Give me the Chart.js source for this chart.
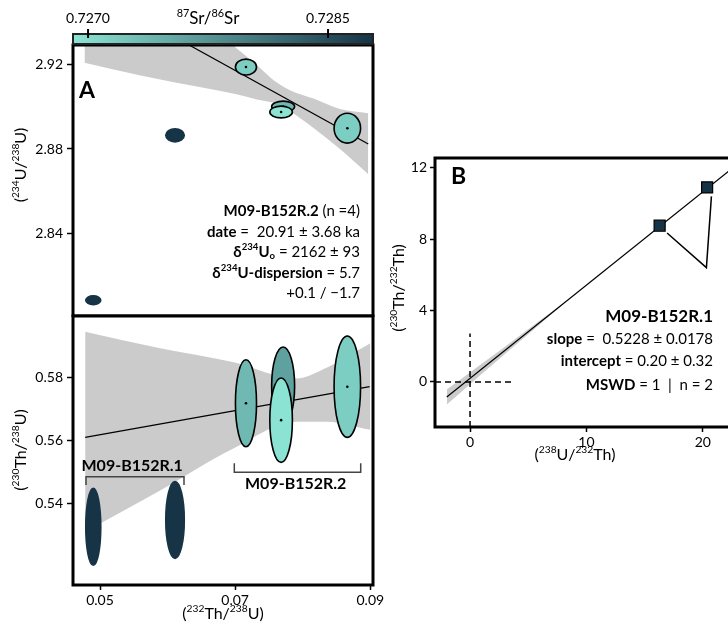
<!DOCTYPE html>
<html>
<head>
<meta charset="utf-8">
<title>M09-B152R U-series</title>
<script src="https://cdn.jsdelivr.net/npm/chart.js@4.4.1/dist/chart.umd.min.js"></script>
<style>
  body { margin: 0; background: #fff; width: 728px; height: 623px; overflow: hidden; position: relative; }
  canvas { position: absolute; }
  #panelATop { left: 0; top: 0; }
  #panelABottom { left: 0; top: 314px; }
  #panelB { left: 380px; top: 140px; }
</style>
</head>
<body>
<canvas id="panelATop" width="400" height="317"></canvas>
<canvas id="panelABottom" width="400" height="309"></canvas>
<canvas id="panelB" width="420" height="330"></canvas>
<script>
// ---- data ----
// 87Sr/86Sr colour scale
const srMin = 0.726906, srMax = 0.728781;
const srTicks = [0.7270, 0.7285];

// sub-samples, shared x: (232Th/238U)
const thU = [0.0490, 0.0611, 0.0716, 0.0771, 0.0768, 0.0866];
const thUErr = [0.00111, 0.00137, 0.00156, 0.0017, 0.00167, 0.00196];

// panel A top: (234U/238U)
const u234 = [2.808, 2.8865, 2.919, 2.9002, 2.8976, 2.8899];
const u234Err = [0.00214, 0.0031, 0.0038, 0.0026, 0.0028, 0.0071];
const srTop = [0.7288, 0.7288, 0.72714, 0.72736, 0.72692, 0.72714];

// panel A bottom: (230Th/238U)
const th230 = [0.5324, 0.5346, 0.5719, 0.5774, 0.5665, 0.5772];
const th230Err = [0.0123, 0.0123, 0.0139, 0.0125, 0.0135, 0.0162];
const srBottom = [0.7288, 0.7288, 0.72736, 0.72762, 0.72692, 0.72714];

// regression lines + confidence bands in panel A
const fitTopX = [0.0477, 0.0897];
const fitTopY = [2.957, 2.8824];
const bandTopX = [0.0477, 0.0560, 0.0655, 0.0702, 0.0732, 0.0756, 0.0781, 0.0816, 0.0855, 0.0897];
const bandTopHi = [2.993, 2.969, 2.941, 2.928, 2.920, 2.913, 2.908, 2.904, 2.899, 2.897];
const bandTopLo = [2.921, 2.915, 2.909, 2.906, 2.9036, 2.902, 2.898, 2.890, 2.880, 2.868];

const fitBotX = [0.0478, 0.0899];
const fitBotY = [0.5610, 0.5772];
const bandBotX = [0.0478, 0.0589, 0.0698, 0.0790, 0.0836, 0.0900];
const bandBotHi = [0.5948, 0.5895, 0.5850, 0.5798, 0.5833, 0.5911];
const bandBotLo = [0.5308, 0.5440, 0.5575, 0.5660, 0.5660, 0.5634];

// panel B: (230Th/232Th) vs (238U/232Th)
const uTh = [16.29, 20.37];
const thTh = [8.76, 10.91];
const isoX = [-2, 24];
const isoY = [-0.85, 12.75];
const isoBandX = [-2, 0, 2, 4, 6, 8];
const isoBandHi = [-0.42, 0.53, 1.49, 2.46, 3.44, 4.41];
const isoBandLo = [-1.27, -0.13, 1.0, 2.12, 3.24, 4.35];
const triX = [16.93, 20.31, 20.74];
const triY = [8.35, 6.41, 10.41];

// axis limits and ticks
const xLimA = [0.046, 0.0904];
const xTicksA = [0.05, 0.07, 0.09];
const yLimTop = [2.8005, 2.9295];
const yTicksTop = [2.84, 2.88, 2.92];
const yLimBot = [0.5138, 0.5998];
const yTicksBot = [0.54, 0.56, 0.58];
const xLimB = [-3.01, 25];
const xTicksB = [0, 10, 20];
const yLimB = [-2.53, 12.56];
const yTicksB = [0, 4, 8, 12];

// ---- helpers ----
const FONT = 'Lato';
const srLight = [140, 228, 212];
const srDark = [22, 52, 70];

function srT(v) {
  return Math.min(1, Math.max(0, (v - srMin) / (srMax - srMin)));
}
function srColor(v) {
  const t = srT(v);
  const c = srLight.map((a, i) => Math.round(a + (srDark[i] - a) * t));
  return `rgb(${c[0]},${c[1]},${c[2]})`;
}

const pts = (xs, ys) => xs.map((x, i) => ({ x: x, y: ys[i] }));
const setTicks = vals => s => { s.ticks = vals.map(v => ({ value: v })); };
const fitW = w => s => { s.width = w; s.paddingTop = 0; s.paddingBottom = 0; };
const fitH = h => s => { s.height = h; s.paddingLeft = 0; s.paddingRight = 0; };

// draws mixed text: parts = [[text, style]], style n | b | sup | bsup | bsub
function rich(ctx, parts, x, y, align, size) {
  const fontOf = st => {
    const bold = st === 'b' || st === 'bsup' || st === 'bsub';
    const small = st === 'sup' || st === 'bsup' || st === 'bsub';
    return (bold ? 'bold ' : '') + (small ? size * 0.64 : size) + 'px ' + FONT;
  };
  const shift = st => (st === 'sup' || st === 'bsup') ? -size * 0.32 : (st === 'bsub' ? size * 0.28 : 0);
  let total = 0;
  const widths = parts.map(p => { ctx.font = fontOf(p[1]); const w = ctx.measureText(p[0]).width; total += w; return w; });
  let cx = align === 'right' ? x - total : align === 'center' ? x - total / 2 : x;
  ctx.textBaseline = 'middle';
  ctx.textAlign = 'left';
  ctx.fillStyle = '#000';
  parts.forEach((p, i) => {
    ctx.font = fontOf(p[1]);
    ctx.fillText(p[0], cx, y + shift(p[1]));
    cx += widths[i];
  });
}

function richRotated(ctx, parts, x, y, size) {
  ctx.save();
  ctx.translate(x, y);
  ctx.rotate(-Math.PI / 2);
  rich(ctx, parts, 0, 0, 'center', size);
  ctx.restore();
}

// error ellipses, drawn right before the scatter dataset that holds the centres
const ellipsePlugin = {
  id: 'ellipses',
  beforeDatasetDraw(chart, args) {
    const ds = chart.data.datasets[args.index];
    if (!ds.errX) return;
    const meta = args.meta;
    const xs = chart.scales[meta.xAxisID], ys = chart.scales[meta.yAxisID];
    const ctx = chart.ctx, a = chart.chartArea;
    ctx.save();
    ctx.beginPath();
    ctx.rect(a.left, a.top, a.right - a.left, a.bottom - a.top);
    ctx.clip();
    meta.data.forEach((el, i) => {
      const d = ds.data[i];
      const rx = Math.abs(xs.getPixelForValue(d.x + ds.errX[i]) - el.x);
      const ry = Math.abs(ys.getPixelForValue(d.y + ds.errY[i]) - el.y);
      const dark = srT(ds.sr[i]) > 0.7;
      ctx.beginPath();
      ctx.ellipse(el.x, el.y, rx, ry, 0, 0, Math.PI * 2);
      ctx.fillStyle = srColor(ds.sr[i]);
      ctx.fill();
      ctx.lineWidth = 1.6;
      ctx.strokeStyle = dark ? srColor(ds.sr[i]) : '#000';
      ctx.stroke();
      if (!dark) {
        ctx.beginPath();
        ctx.arc(el.x, el.y, 1.3, 0, Math.PI * 2);
        ctx.fillStyle = '#000';
        ctx.fill();
      }
    });
    ctx.restore();
  }
};

const framePlugin = {
  id: 'frame',
  afterDatasetsDraw(chart) {
    const a = chart.chartArea, ctx = chart.ctx;
    ctx.save();
    ctx.lineWidth = 3;
    ctx.strokeStyle = '#000';
    ctx.strokeRect(a.left, a.top, a.right - a.left, a.bottom - a.top);
    ctx.restore();
  }
};

function bandSets(xs, hi, lo) {
  return [
    { type: 'line', data: pts(xs, hi), borderWidth: 0, pointRadius: 0, fill: '+1',
      backgroundColor: '#cbcbcb', cubicInterpolationMode: 'monotone', order: 5 },
    { type: 'line', data: pts(xs, lo), borderWidth: 0, pointRadius: 0, fill: false,
      cubicInterpolationMode: 'monotone', order: 5 }
  ];
}

const tickMarks = len => ({ display: true, drawOnChartArea: false, drawTicks: true, tickLength: len,
  tickWidth: 1.5, tickColor: '#000' });
const tickFont = { family: FONT, size: 14 };
const baseOpts = {
  responsive: false,
  animation: false,
  events: [],
  plugins: { legend: { display: false }, tooltip: { enabled: false } }
};

// ---- panel A, top ----
new Chart(document.getElementById('panelATop'), {
  type: 'scatter',
  data: {
    datasets: [
      ...bandSets(bandTopX, bandTopHi, bandTopLo),
      { type: 'line', data: pts(fitTopX, fitTopY), borderColor: '#000', borderWidth: 1.2, pointRadius: 0, order: 3 },
      { data: pts(thU, u234), errX: thUErr, errY: u234Err, sr: srTop, pointRadius: 0, order: 1 }
    ]
  },
  options: {
    ...baseOpts,
    layout: { padding: { left: 0, right: 27, top: 0, bottom: 1 } },
    scales: {
      x: { type: 'linear', display: false, min: xLimA[0], max: xLimA[1] },
      sr: {
        type: 'linear', axis: 'x', position: 'top', min: srMin, max: srMax,
        afterBuildTicks: setTicks(srTicks), afterFit: fitH(45),
        grid: { display: false, drawTicks: false }, border: { display: false },
        ticks: { font: tickFont, color: '#000', padding: 18, autoSkip: false, maxRotation: 0,
          callback: v => v.toFixed(4) }
      },
      y: {
        type: 'linear', min: yLimTop[0], max: yLimTop[1],
        afterBuildTicks: setTicks(yTicksTop), afterFit: fitW(73),
        grid: tickMarks(6), border: { display: false },
        ticks: { font: tickFont, color: '#000', padding: 4, callback: v => v.toFixed(2) }
      }
    }
  },
  plugins: [ellipsePlugin, framePlugin, {
    id: 'topDecor',
    afterDraw(chart) {
      const ctx = chart.ctx, sr = chart.scales.sr;
      // colour bar
      const g = ctx.createLinearGradient(sr.left, 0, sr.right, 0);
      g.addColorStop(0, srColor(srMin));
      g.addColorStop(1, srColor(srMax));
      ctx.fillStyle = g;
      ctx.fillRect(sr.left, 34, sr.right - sr.left, 10);
      ctx.lineWidth = 2;
      ctx.strokeStyle = '#222';
      ctx.strokeRect(sr.left, 34, sr.right - sr.left, 10);
      ctx.strokeStyle = '#000';
      srTicks.forEach(v => {
        const px = sr.getPixelForValue(v);
        ctx.beginPath(); ctx.moveTo(px, 29); ctx.lineTo(px, 38); ctx.stroke();
      });
      rich(ctx, [['87', 'sup'], ['Sr/', 'n'], ['86', 'sup'], ['Sr', 'n']], 208, 19, 'center', 17);
      ctx.font = 'bold 23px ' + FONT;
      ctx.textBaseline = 'alphabetic';
      ctx.fillText('A', 79, 98);
      richRotated(ctx, [['(', 'n'], ['234', 'sup'], ['U/', 'n'], ['238', 'sup'], ['U)', 'n']], 21, 165, 16);
      const rx = 360;
      rich(ctx, [['M09-B152R.2', 'b'], [' (n =4)', 'n']], rx, 211, 'right', 15);
      rich(ctx, [['date', 'b'], [' =  20.91 \u00b1 3.68 ka', 'n']], rx, 232, 'right', 15);
      rich(ctx, [['\u03b4', 'b'], ['234', 'bsup'], ['U', 'b'], ['o', 'bsub'], [' = 2162 \u00b1 93', 'n']], rx, 252, 'right', 15);
      rich(ctx, [['\u03b4', 'b'], ['234', 'bsup'], ['U-dispersion', 'b'], [' = 5.7', 'n']], rx, 273, 'right', 15);
      rich(ctx, [['+0.1 / \u22121.7', 'n']], rx, 293.5, 'right', 15);
    }
  }]
});

// ---- panel A, bottom ----
new Chart(document.getElementById('panelABottom'), {
  type: 'scatter',
  data: {
    datasets: [
      ...bandSets(bandBotX, bandBotHi, bandBotLo),
      { type: 'line', data: pts(fitBotX, fitBotY), borderColor: '#000', borderWidth: 1.2, pointRadius: 0, order: 3 },
      { data: pts(thU, th230), errX: thUErr, errY: th230Err, sr: srBottom, pointRadius: 0, order: 1 }
    ]
  },
  options: {
    ...baseOpts,
    layout: { padding: { left: 0, right: 27, top: 2, bottom: 0 } },
    scales: {
      x: {
        type: 'linear', min: xLimA[0], max: xLimA[1],
        afterBuildTicks: setTicks(xTicksA), afterFit: fitH(38),
        grid: tickMarks(5), border: { display: false },
        ticks: { font: tickFont, color: '#000', padding: 2, autoSkip: false, maxRotation: 0,
          callback: v => v.toFixed(2) }
      },
      y: {
        type: 'linear', min: yLimBot[0], max: yLimBot[1],
        afterBuildTicks: setTicks(yTicksBot), afterFit: fitW(73),
        grid: tickMarks(6), border: { display: false },
        ticks: { font: tickFont, color: '#000', padding: 4, callback: v => v.toFixed(2) }
      }
    }
  },
  plugins: [ellipsePlugin, framePlugin, {
    id: 'bottomDecor',
    afterDraw(chart) {
      const ctx = chart.ctx;
      ctx.save();
      ctx.strokeStyle = '#444';
      ctx.lineWidth = 1.5;
      ctx.beginPath();
      ctx.moveTo(86, 171); ctx.lineTo(86, 162.7); ctx.lineTo(184, 162.7); ctx.lineTo(184, 171);
      ctx.moveTo(234.3, 149.3); ctx.lineTo(234.3, 158.3); ctx.lineTo(360.7, 158.3); ctx.lineTo(360.7, 149.3);
      ctx.stroke();
      ctx.restore();
      rich(ctx, [['M09-B152R.1', 'b']], 81.5, 152, 'left', 16);
      rich(ctx, [['M09-B152R.2', 'b']], 245, 169.5, 'left', 16);
      richRotated(ctx, [['(', 'n'], ['230', 'sup'], ['Th/', 'n'], ['238', 'sup'], ['U)', 'n']], 21, 136, 16);
      rich(ctx, [['(', 'n'], ['232', 'sup'], ['Th/', 'n'], ['238', 'sup'], ['U)', 'n']], 223, 300, 'center', 16);
    }
  }]
});

// ---- panel B ----
new Chart(document.getElementById('panelB'), {
  type: 'scatter',
  data: {
    datasets: [
      ...bandSets(isoBandX, isoBandHi, isoBandLo),
      { type: 'line', data: [{ x: 0, y: yLimB[0] }, { x: 0, y: 2.72 }], borderColor: '#000', borderWidth: 1.5,
        borderDash: [6, 4], pointRadius: 0, order: 4 },
      { type: 'line', data: [{ x: xLimB[0], y: 0 }, { x: 3.73, y: 0 }], borderColor: '#000', borderWidth: 1.5,
        borderDash: [6, 4], pointRadius: 0, order: 4 },
      { type: 'line', data: pts(isoX, isoY), borderColor: '#000', borderWidth: 1.2, pointRadius: 0, order: 3 },
      { type: 'line', data: pts(triX, triY), borderColor: '#000', borderWidth: 1.5, pointRadius: 0, order: 3 },
      { data: pts(uTh, thTh), pointStyle: 'rect', pointRadius: 7.8, backgroundColor: '#173447',
        borderColor: '#000', borderWidth: 1.2, order: 1 }
    ]
  },
  options: {
    ...baseOpts,
    layout: { padding: { left: 0, right: 39, top: 18, bottom: 0 } },
    scales: {
      x: {
        type: 'linear', min: xLimB[0], max: xLimB[1],
        afterBuildTicks: setTicks(xTicksB), afterFit: fitH(43),
        grid: tickMarks(5), border: { display: false },
        ticks: { font: tickFont, color: '#000', padding: 2, autoSkip: false, maxRotation: 0 }
      },
      y: {
        type: 'linear', min: yLimB[0], max: yLimB[1],
        afterBuildTicks: setTicks(yTicksB), afterFit: fitW(55),
        grid: tickMarks(5), border: { display: false },
        ticks: { font: tickFont, color: '#000', padding: 3 }
      }
    }
  },
  plugins: [framePlugin, {
    id: 'bDecor',
    afterDraw(chart) {
      const ctx = chart.ctx;
      ctx.font = 'bold 23px ' + FONT;
      ctx.fillStyle = '#000';
      ctx.textBaseline = 'alphabetic';
      ctx.textAlign = 'left';
      ctx.fillText('B', 71, 43.5);
      richRotated(ctx, [['(', 'n'], ['230', 'sup'], ['Th/', 'n'], ['232', 'sup'], ['Th)', 'n']], 19, 148, 16);
      rich(ctx, [['(', 'n'], ['238', 'sup'], ['U/', 'n'], ['232', 'sup'], ['Th)', 'n']], 195, 315, 'center', 16);
      const rx = 333;
      rich(ctx, [['M09-B152R.1', 'b']], rx, 176.5, 'right', 17);
      rich(ctx, [['slope', 'b'], [' =  0.5228 \u00b1 0.0178', 'n']], rx, 199, 'right', 15);
      rich(ctx, [['intercept', 'b'], [' = 0.20 \u00b1 0.32', 'n']], rx, 221.5, 'right', 15);
      rich(ctx, [['MSWD', 'b'], [' = 1  |  n = 2', 'n']], rx, 245, 'right', 15);
    }
  }]
});
</script>
</body>
</html>
